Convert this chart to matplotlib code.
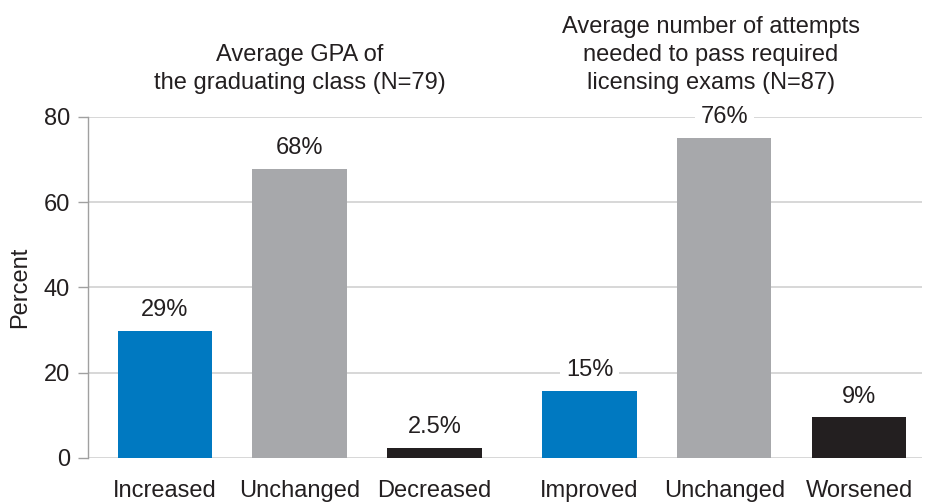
import matplotlib.pyplot as plt

# data
categories = ["Increased", "Unchanged", "Decreased", "Improved", "Unchanged", "Worsened"]
values     = [29.7, 67.7, 2.3, 15.7, 75.0, 9.5]
labels     = ["29%", "68%", "2.5%", "15%", "76%", "9%"]
positions  = [0, 1, 2, 3.15, 4.15, 5.15]
group_titles = ["Average GPA of\nthe graduating class (N=79)",
                "Average number of attempts\nneeded to pass required\nlicensing exams (N=87)"]
yticks     = [0, 20, 40, 60, 80]

BLUE, GRAY, BLACK = "#0079C1", "#A7A8AB", "#231F20"
colors = [BLUE, GRAY, BLACK, BLUE, GRAY, BLACK]
TXT = "#231F20"
FS = 17

plt.rcParams["font.family"] = ["Liberation Sans", "DejaVu Sans"]

fig = plt.figure(figsize=(9.27, 5.03), dpi=100)
ax = fig.add_axes([0.095, 0.0895, 0.9, 0.678])

ax.bar(positions, values, width=0.7, color=colors, zorder=3)

for x, v, lab in zip(positions, values, labels):
    ax.text(x, v + 4.9, lab, ha="center", va="center", fontsize=FS, color=TXT,
            zorder=4, clip_on=False,
            bbox=dict(facecolor="white", edgecolor="none", pad=4))

ax.set_xlim(-0.57, 5.62)
ax.set_ylim(0, 80)
ax.set_yticks(yticks)
ax.set_xticks(positions)
ax.set_xticklabels(categories)
ax.tick_params(axis="x", length=0, pad=16, labelsize=FS, labelcolor=TXT)
ax.tick_params(axis="y", length=7, width=1, color="#A0A0A0", pad=6,
               labelsize=FS, labelcolor=TXT)

ax.grid(axis="y", color="#D4D4D4", linewidth=1.3, zorder=0)
for s in ["top", "right", "bottom"]:
    ax.spines[s].set_visible(False)
ax.spines["left"].set_color("#A0A0A0")
ax.spines["left"].set_linewidth(1)

ax.set_ylabel("Percent", fontsize=FS, color=TXT, labelpad=9)

# group headers
ax.text(1, 85.5, group_titles[0], ha="center", va="bottom", fontsize=FS,
        color=TXT, linespacing=1.35, clip_on=False)
ax.text(4.05, 85.5, group_titles[1], ha="center", va="bottom", fontsize=FS,
        color=TXT, linespacing=1.35, clip_on=False)

fig.savefig("out.png", dpi=100)
